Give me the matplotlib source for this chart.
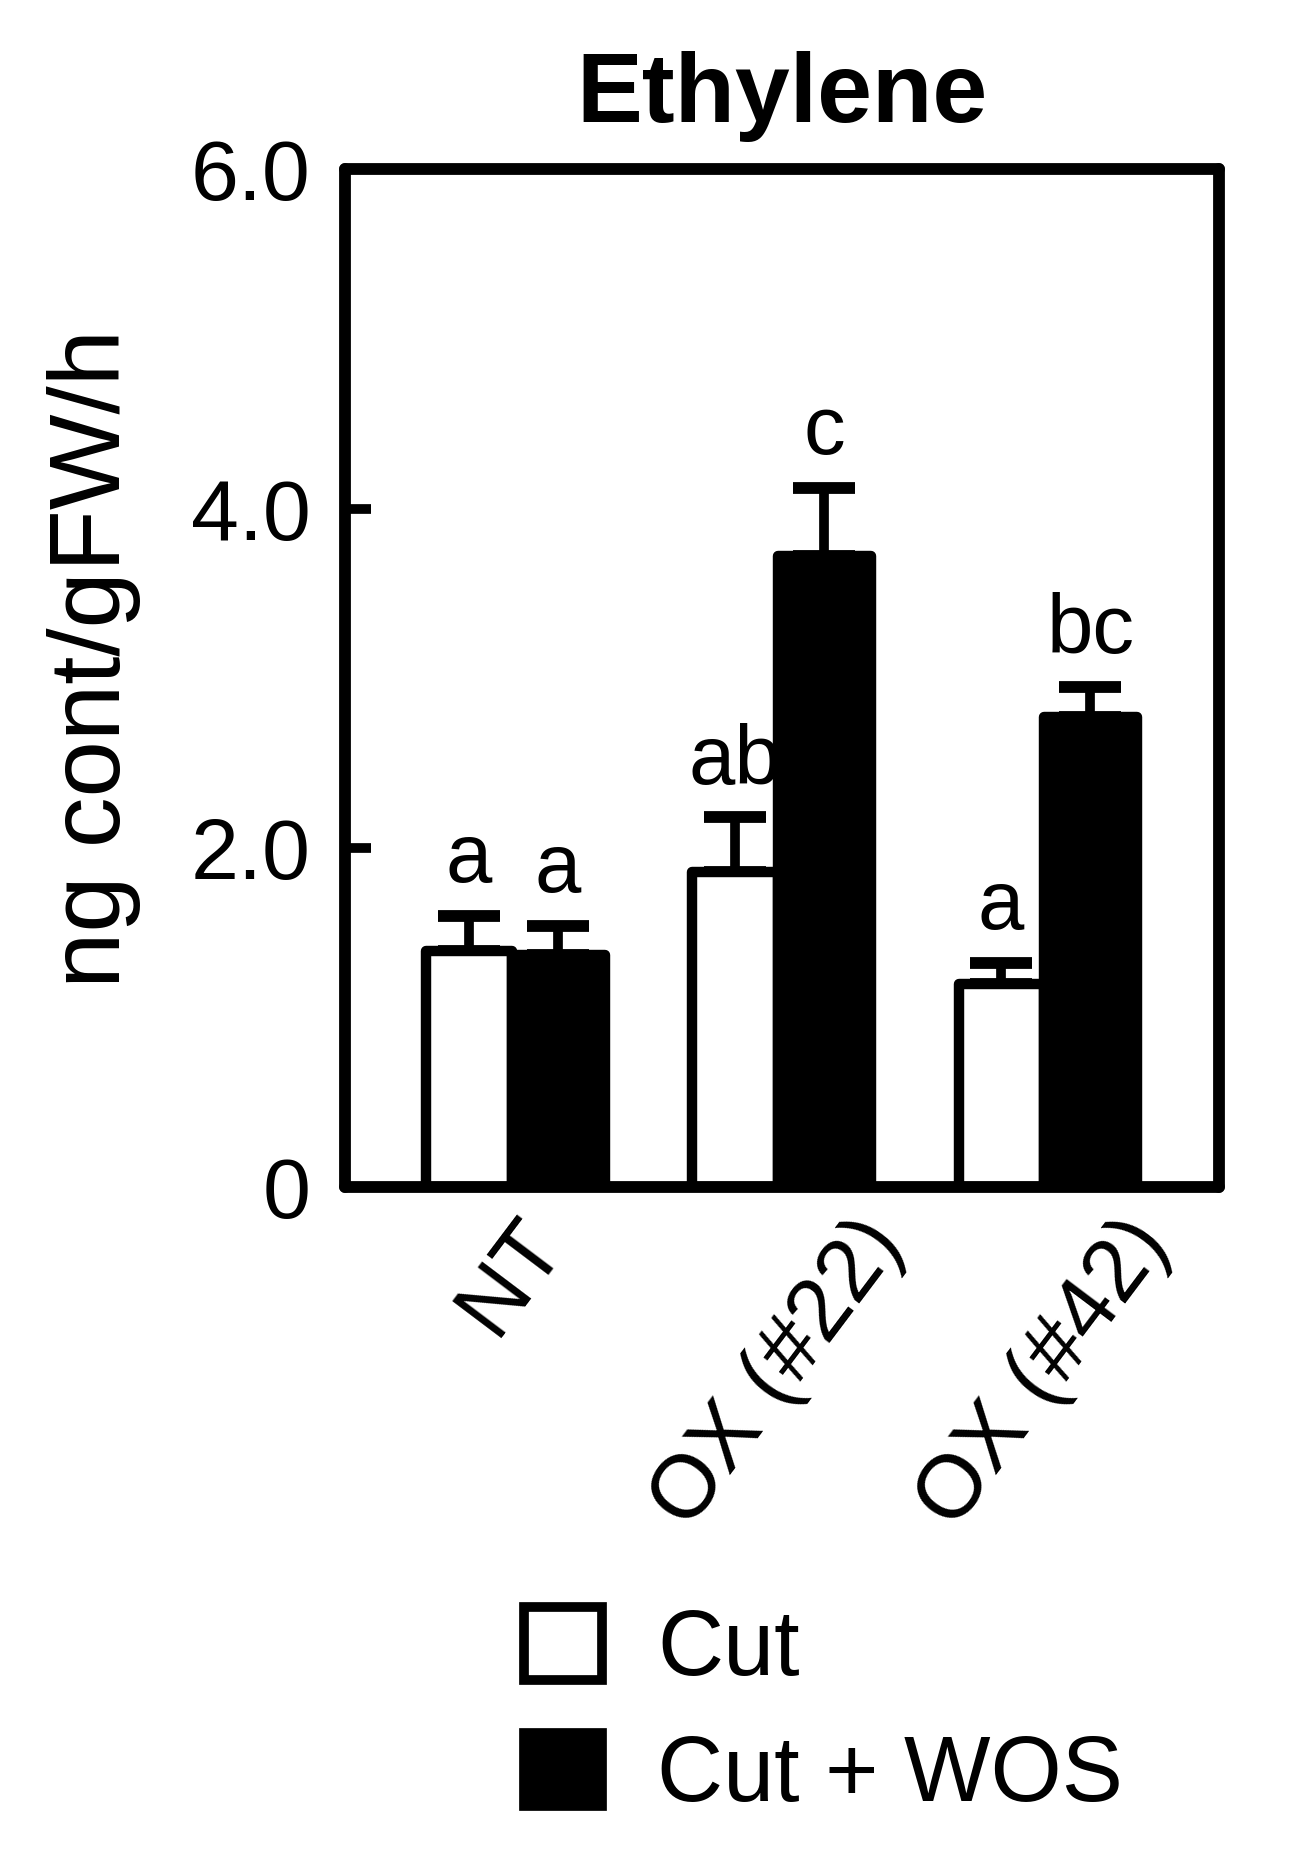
#!/usr/bin/env python3
# Ethylene production, Cut vs Cut + WOS, bar chart with letters
import numpy as np
import matplotlib
matplotlib.use("Agg")
import matplotlib.pyplot as plt
from matplotlib.patches import Patch

plt.rcParams['font.family'] = ['Liberation Sans', 'DejaVu Sans']

# data
groups = ["NT", "OX (#22)", "OX (#42)"]
cut_mean = [1.39, 1.86, 1.20]
cut_err = [0.21, 0.32, 0.12]
wos_mean = [1.37, 3.72, 2.77]
wos_err = [0.17, 0.40, 0.18]
cut_letters = ["a", "ab", "a"]
wos_letters = ["a", "c", "bc"]
yticks = [0, 2.0, 4.0, 6.0]
ytick_labels = ["0", "2.0", "4.0", "6.0"]

x = np.arange(len(groups))
w_cut = 0.32
w_wos = 0.35

fig = plt.figure(figsize=(12.93, 18.61), dpi=100)
ax = fig.add_axes([0.267, 0.362, 0.676, 0.547])

# bars
ax.bar(x - w_cut / 2, cut_mean, w_cut, color="white", edgecolor="black",
       linewidth=7.5, joinstyle="round", zorder=2)
ax.bar(x + w_wos / 2, wos_mean, w_wos, color="black", edgecolor="black",
       linewidth=7.5, joinstyle="round", zorder=2)

# upper error bars only
ax.errorbar(x - w_cut / 2, cut_mean, yerr=[np.zeros(3), cut_err], fmt="none",
            ecolor="black", elinewidth=7, capsize=22, capthick=8.5, zorder=1)
ax.errorbar(x + w_wos / 2, wos_mean, yerr=[np.zeros(3), wos_err], fmt="none",
            ecolor="black", elinewidth=7, capsize=22, capthick=8.5, zorder=1)

# significance letters
for i in range(len(groups)):
    ax.text(x[i] - w_cut / 2, cut_mean[i] + cut_err[i] + 0.2, cut_letters[i],
            ha="center", va="baseline", fontsize=60)
    ax.text(x[i] + w_wos / 2, wos_mean[i] + wos_err[i] + 0.2, wos_letters[i],
            ha="center", va="baseline", fontsize=60)

ax.set_xlim(-0.625, 2.66)
ax.set_ylim(0, 6.0)
ax.set_yticks(yticks)
ax.set_yticklabels(ytick_labels)
ax.set_xticks(x)
ax.set_xticklabels(groups, rotation=53)
ax.tick_params(axis="y", direction="in", length=19, width=7, pad=25,
               labelsize=62)
ax.tick_params(axis="x", length=0, pad=12, labelsize=64)
for s in ax.spines.values():
    s.set_linewidth(8.5)
    s.set_capstyle("round")

ax.set_title("Ethylene", fontsize=71, fontweight="bold", pad=34)
fig.text(0.073, 0.646, "ng cont/gFW/h", rotation=90, ha="center",
         va="center", fontsize=73)

# legend
handles = [Patch(facecolor="white", edgecolor="black", linewidth=7,
                 joinstyle="round"),
           Patch(facecolor="black", edgecolor="black", linewidth=7,
                 joinstyle="round")]
fig.legend(handles, ["Cut", "Cut + WOS"], loc="upper left",
           bbox_to_anchor=(524 / 1293, 1 - 1607 / 1861), frameon=False,
           fontsize=66, handlelength=0.85, handleheight=0.85,
           handletextpad=0.6, labelspacing=0.42, borderpad=0,
           borderaxespad=0)

fig.savefig("out.png", dpi=100)
